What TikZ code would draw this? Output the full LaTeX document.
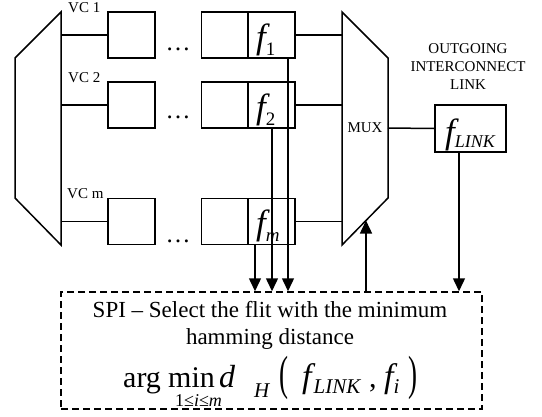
\documentclass[tikz,border=0pt]{standalone}
\usepackage{fontspec}
\setmainfont{Liberation Serif}
\usetikzlibrary{arrows.meta}
\newcommand\fsz[1]{\fontsize{#1}{#1}\selectfont}
\tikzset{
  ln/.style={line width=1.5pt},
  bx/.style={draw, line width=1.5pt, inner sep=0pt, minimum width=47pt, minimum height=46pt},
  arr/.style={line width=1.5pt, -{Triangle[width=12pt,length=13pt]}},
  tx/.style={inner sep=0pt, anchor=base west},
  small/.style={inner sep=0pt, font=\fsz{15}},
}
\begin{document}
\begin{tikzpicture}[x=1pt,y=-1pt]
\useasboundingbox (0,0) rectangle (542,416);
% demux
\draw[ln] (61,12) -- (15,58) -- (15,198) -- (61,245) -- cycle;
\coordinate (dm) at (61,0);
% mux
\draw[ln] (342,12) -- (388,58) -- (388,198) -- (342,245) -- cycle;
\coordinate (mx) at (342,0);
\coordinate (mxr) at (388,128);
\node[small, anchor=base] (muxlbl) at (365,132) {MUX};
% rows
\foreach \i/\y/\dy in {1/35/50, 2/105/118, m/221.5/242}{
  \node[bx] (b\i) at (131.5,\y) {};
  \node[bx] (l\i) at (225,\y) {};
  \node[bx] (f\i) at (271.5,\y) {};
  \draw[ln] (b\i.west -| dm) -- (b\i.west);
  \draw[ln] (f\i.east) -- (f\i.east -| mx);
  \node[inner sep=0pt, anchor=base, font=\fsz{25}] (dots\i) at (178,\dy) {…};
}
\node[tx, font=\fsz{35}] (lab1) at (256,48) {\itshape f\raisebox{-7pt}{\fsz{19}\upshape 1}};
\node[tx, font=\fsz{35}] (lab2) at (256,118) {\itshape f\raisebox{-7pt}{\fsz{19}\upshape 2}};
\node[tx, font=\fsz{35}] (labm) at (256,234) {\itshape f\raisebox{-7pt}{\fsz{19}m}};
\node[tx, font=\fsz{15}] (vc1) at (68,12) {VC 1};
\node[tx, font=\fsz{15}] (vc2) at (68,82) {VC 2};
\node[tx, font=\fsz{15}] (vcm) at (67,198) {VC m};
% link
\node[draw, line width=1.5pt, inner sep=0pt, minimum width=71pt, minimum height=47pt] (fl) at (470.5,128.5) {};
\node[tx, font=\fsz{35}] (fllab) at (445,143) {\itshape f\raisebox{-4pt}{\fsz{18}LINK}};
\draw[ln] (mxr) -- (fl.west);
\node[small, anchor=base] (og1) at (468,53) {OUTGOING};
\node[small, anchor=base] (og2) at (468,71) {INTERCONNECT};
\node[small, anchor=base] (og3) at (468,89) {LINK};
% SPI box
\node[draw, line width=1.5pt, dash pattern=on 7pt off 4pt, inner sep=0pt, minimum width=421pt, minimum height=117pt] (spi) at (271.5,350.5) {};
\node[inner sep=0pt, anchor=base, font=\fsz{23}] (t1) at (270,317) {SPI – Select the flit with the minimum};
\node[inner sep=0pt, anchor=base, font=\fsz{23}] (t2) at (270,344) {hamming distance};
\node[tx, font=\fsz{30}] (arg) at (123,387) {arg};
\node[tx, font=\fsz{30}] (min) at (168,387) {min};
\node[tx, font=\fsz{18}] (lim) at (175,406) {1≤\textit{i}≤\textit{m}};
\node[tx, font=\fsz{32}\itshape] (dd) at (219,387) {d};
\node[tx, font=\fsz{21}\itshape] (hh) at (254,397) {H};
\node[inner sep=0pt, font=\fsz{30}] (lp) at (284,378) {\scalebox{0.9}[1.6]{(}};
\node[tx, font=\fsz{34}] (ff1) at (302,387) {\itshape f\raisebox{-6pt}{\hspace{2pt}\fsz{21}LINK}};
\node[tx, font=\fsz{30}] (cm) at (369,387) {,};
\node[tx, font=\fsz{34}] (ff2) at (384,387) {\itshape f\raisebox{-6pt}{\fsz{21}i}};
\node[inner sep=0pt, font=\fsz{30}] (rp) at (413,378) {\scalebox{0.9}[1.6]{)}};
% arrows
\draw[arr] ([xshift=16.5pt]f1.south) -- ([xshift=16.5pt]f1.south |- spi.north);
\draw[arr] ([xshift=0.5pt]f2.south) -- ([xshift=0.5pt]f2.south |- spi.north);
\draw[arr] ([xshift=-16.5pt]fm.south) -- ([xshift=-16.5pt]fm.south |- spi.north);
\draw[arr] ([xshift=-11.5pt]fl.south) -- ([xshift=-11.5pt]fl.south |- spi.north);
\coordinate (up) at (366,220.5);
\draw[arr] (up |- spi.north) -- (up);
\end{tikzpicture}
\end{document}
